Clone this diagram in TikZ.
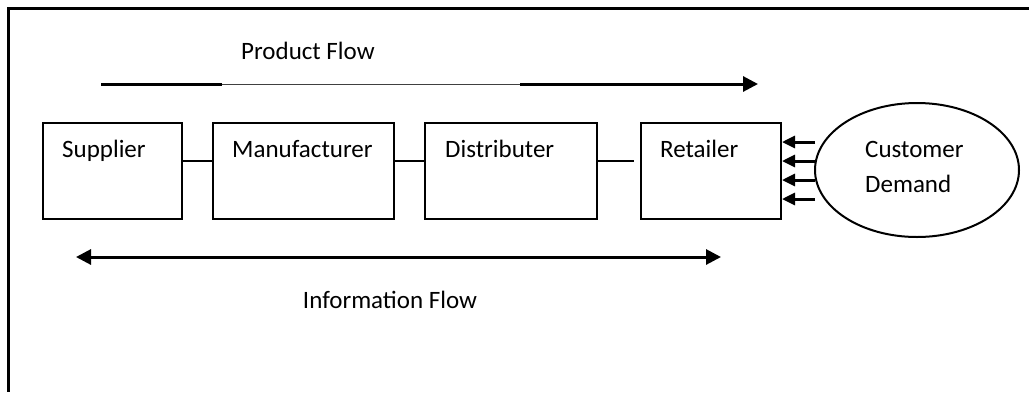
\documentclass[tikz,border=0pt]{standalone}
\usepackage{fontspec}
\setmainfont{Carlito}
\usetikzlibrary{arrows.meta,shapes.geometric}
\begin{document}
\begin{tikzpicture}[x=1pt,y=-1pt,
  box/.style={draw,line width=2pt,minimum width=#1,minimum height=96pt,inner sep=0pt,anchor=north west},
  lbl/.style={font=\fontsize{25}{30}\selectfont,anchor=base west,inner sep=0pt},
  link/.style={line width=2pt},
  thickarrow/.style={line width=3pt,-{Triangle[length=15pt,width=15pt]}},
  darrow/.style={line width=3pt,{Triangle[length=15pt,width=15pt]}-{Triangle[length=15pt,width=15pt]}},
  demarrow/.style={line width=3pt,-{Triangle[length=13pt,width=12pt]}}]
\useasboundingbox (0,0) rectangle (1029,392);
% frame (only top and left edges are visible)
\draw[line width=3pt] (1029,8) -- (8,8) -- (8,392);
% boxes
\node[box=139pt] (sup) at (42,122) {};
\node[box=181pt] (man) at (212,122) {};
\node[box=172pt] (dis) at (424,122) {};
\node[box=140pt] (ret) at (640,122) {};
\node[lbl] (tsup) at (62,157) {Supplier};
\node[lbl] (tman) at (232,157) {Manufacturer};
\node[lbl] (tdis) at (445,157) {Distributer};
\node[lbl] (tret) at (660,157) {Retailer};
\draw[link] (sup.east |- 0,161) -- (man.west |- 0,161);
\draw[link] (man.east |- 0,161) -- (dis.west |- 0,161);
\draw[link,shorten >=6pt] (dis.east |- 0,161) -- (ret.west |- 0,161);
% customer demand
\node[draw,ellipse,line width=2pt,minimum width=204pt,minimum height=134pt,inner sep=0pt] (cust) at (917,170) {};
\node[lbl] (tcust1) at (865,157) {Customer};
\node[lbl] (tcust2) at (865,192) {Demand};
\foreach \y [count=\i] in {142,161,180,199}{
  \coordinate (d\i) at (815,\y);
  \draw[demarrow] (d\i) -- (ret.east |- d\i);
}
% product flow
\node[lbl] (tpf) at (241,59) {Product Flow};
\coordinate (pf1) at (101,84);
\coordinate (pf2) at (222,84);
\coordinate (pf3) at (520,84);
\coordinate (pf4) at (758,84);
\draw[line width=3pt] (pf1) -- (pf2);
\draw[line width=1pt,black!75] (pf2) -- (pf3);
\draw[thickarrow] (pf3) -- (pf4);
% information flow
\coordinate (if1) at (76,257);
\coordinate (if2) at (721,257);
\draw[darrow] (if1) -- (if2);
\node[lbl,anchor=base] (tif) at (390,308) {Information Flow};
\end{tikzpicture}
\end{document}
